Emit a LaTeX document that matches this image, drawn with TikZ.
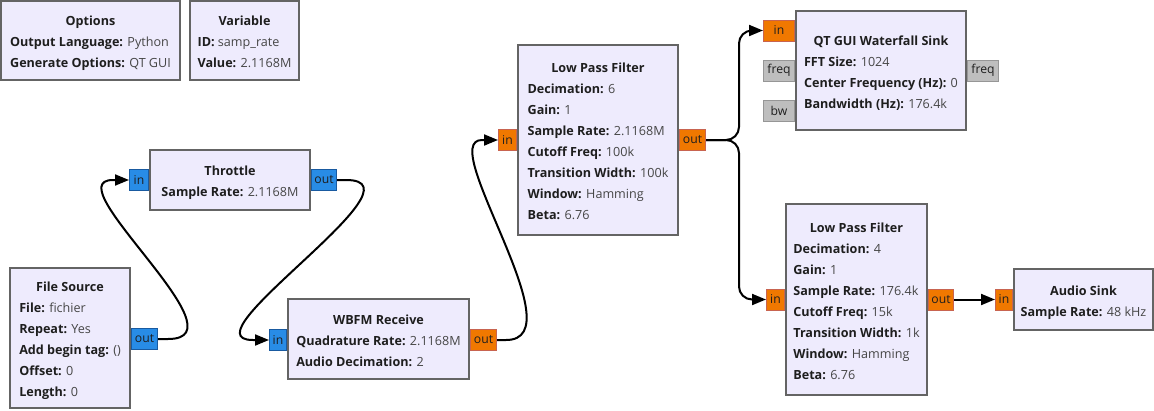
\documentclass[tikz,border=0pt]{standalone}
\usepackage{fontspec}
\setmainfont{Open Sans}
\usetikzlibrary{arrows.meta,calc,backgrounds}

\definecolor{blockfill}{RGB}{238,235,253}
\definecolor{blockdraw}{RGB}{100,100,100}
\definecolor{portblue}{RGB}{40,140,230}
\definecolor{portblueb}{RGB}{25,90,160}
\definecolor{portorange}{RGB}{240,120,0}
\definecolor{portorangeb}{RGB}{200,100,80}
\definecolor{portgray}{RGB}{190,190,190}
\definecolor{portgrayb}{RGB}{150,150,150}
\definecolor{valtext}{RGB}{70,70,70}
\definecolor{labtext}{RGB}{30,30,30}

% one parameter line: bold name, plain value
\newcommand\prm[2]{\textbf{#1:} {\color{valtext}#2}}
% block body: centred bold title over left-aligned parameters
\newcommand\blk[2]{\begin{tabular}{@{}l@{}}\multicolumn{1}{@{}c@{}}{\rule{0pt}{18.7pt}\textbf{#1}}\\#2\end{tabular}}

\tikzset{
  block/.style={draw=blockdraw, fill=blockfill, line width=2pt, rectangle,
    inner sep=0pt, text=labtext, font=\fontsize{12.6}{21}\selectfont},
  port/.style={draw, line width=1pt, rectangle, inner sep=0pt,
    minimum height=21pt, text=labtext, font=\fontsize{12.2}{14}\selectfont},
  bport/.style={port, fill=portblue, draw=portblueb},
  oport/.style={port, fill=portorange, draw=portorangeb},
  gport/.style={port, fill=portgray, draw=portgrayb},
  wire/.style={line width=2pt, black, -{Triangle[length=14pt,width=11pt]}},
}

\begin{document}
\begin{tikzpicture}[x=1pt,y=-1pt]
\useasboundingbox (0,0) rectangle (1154,410);

% blocks
\node[block, minimum width=179pt, minimum height=79pt] (opt) at (90.5,40.5)
  {\blk{Options}{\prm{Output Language}{Python}\\\prm{Generate Options}{QT GUI}}};
\node[block, minimum width=109pt, minimum height=79pt] (var) at (244.5,40.5)
  {\blk{Variable}{\prm{ID}{samp\_rate}\\\prm{Value}{2.1168M}}};
\node[block, minimum width=160pt, minimum height=60pt] (thr) at (230,180)
  {\blk{Throttle}{\prm{Sample Rate}{2.1168M}}};
\node[block, minimum width=120pt, minimum height=140pt] (fs) at (70,338)
  {\blk{File Source}{\prm{File}{fichier}\\\prm{Repeat}{Yes}\\\prm{Add begin tag}{()}\\\prm{Offset}{0}\\\prm{Length}{0}}};
\node[block, minimum width=181pt, minimum height=80pt] (wbfm) at (378.5,339)
  {\blk{WBFM Receive}{\prm{Quadrature Rate}{2.1168M}\\\prm{Audio Decimation}{2}}};
\node[block, minimum width=160pt, minimum height=190pt] (lpfa) at (598,140)
  {\blk{Low Pass Filter}{\prm{Decimation}{6}\\\prm{Gain}{1}\\\prm{Sample Rate}{2.1168M}\\\prm{Cutoff Freq}{100k}\\\prm{Transition Width}{100k}\\\prm{Window}{Hamming}\\\prm{Beta}{6.76}}};
\node[block, minimum width=170pt, minimum height=119pt] (wf) at (881,70.5)
  {\blk{QT GUI Waterfall Sink}{\prm{FFT Size}{1024}\\\prm{Center Frequency (Hz)}{0}\\\prm{Bandwidth (Hz)}{176.4k}}};
\node[block, minimum width=141pt, minimum height=191pt] (lpfb) at (856.5,299.5)
  {\blk{Low Pass Filter}{\prm{Decimation}{4}\\\prm{Gain}{1}\\\prm{Sample Rate}{176.4k}\\\prm{Cutoff Freq}{15k}\\\prm{Transition Width}{1k}\\\prm{Window}{Hamming}\\\prm{Beta}{6.76}}};
\node[block, minimum width=139pt, minimum height=61pt] (snk) at (1083.5,299.5)
  {\blk{Audio Sink}{\prm{Sample Rate}{48 kHz}}};

% ports sit behind the block borders
\begin{pgfonlayer}{background}
\fill[white] (0,0) rectangle (1154,410);
\node[bport, minimum width=19pt, anchor=east] (thrin) at (thr.west) {in};
\node[bport, minimum width=25pt, anchor=west] (throut) at (thr.east) {out};
\node[bport, minimum width=26pt, anchor=west] (fsout) at ($(fs.east)+(0,1)$) {out};
\node[bport, minimum width=17pt, anchor=east] (wbfmin) at ($(wbfm.west)+(0,1)$) {in};
\node[oport, minimum width=26pt, anchor=west] (wbfmout) at ($(wbfm.east)+(0,1)$) {out};
\node[oport, minimum width=18pt, anchor=east] (lpfain) at (lpfa.west) {in};
\node[oport, minimum width=26pt, anchor=west] (lpfaout) at (lpfa.east) {out};
\node[oport, minimum width=31pt, anchor=east] (wfin) at ($(wf.west)+(0,-40)$) {in};
\node[gport, minimum width=31pt, anchor=east] (wffreq) at (wf.west) {freq};
\node[gport, minimum width=31pt, anchor=east] (wfbw) at ($(wf.west)+(0,40)$) {bw};
\node[gport, minimum width=31pt, anchor=west] (wffreqout) at (wf.east) {freq};
\node[oport, minimum width=18pt, anchor=east] (lpfbin) at (lpfb.west) {in};
\node[oport, minimum width=25pt, anchor=west] (lpfbout) at (lpfb.east) {out};
\node[oport, minimum width=17pt, anchor=east] (snkin) at (snk.west) {in};
\end{pgfonlayer}

% connections
\draw[wire] (fsout.east) -- ++(10,0) .. controls +(80,0) and +(-60,0) ..
  ($(thrin.west)+(-16,0)$) -- (thrin.west);
\draw[wire] (throut.east) -- ++(9,0) .. controls +(85,0) and +(-72,0) ..
  ($(wbfmin.west)+(-16,0)$) -- (wbfmin.west);
\draw[wire] (wbfmout.east) -- ++(9,0) .. controls +(72,0) and +(-47,0) ..
  ($(lpfain.west)+(-16,0)$) -- (lpfain.west);
\draw[wire, rounded corners=13pt] (lpfaout.east) -- ++(33,0) |- (wfin.west);
\draw[wire, rounded corners=13pt] (lpfaout.east) -- ++(33,0) |- (lpfbin.west);
\draw[wire] (lpfbout.east) -- (snkin.west);
\end{tikzpicture}
\end{document}
